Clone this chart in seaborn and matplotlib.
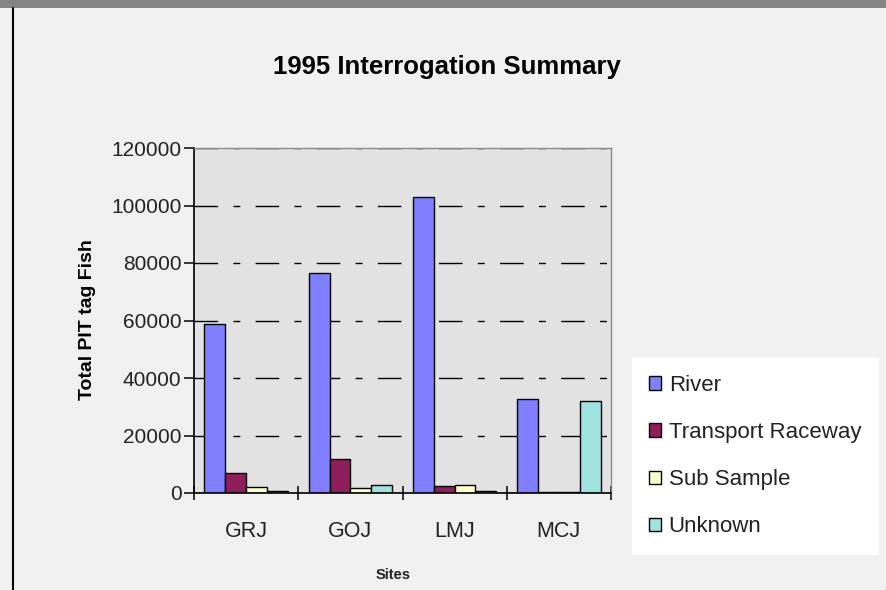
import matplotlib
matplotlib.use("Agg")
import matplotlib.pyplot as plt
import matplotlib.ticker as mticker
from matplotlib.patches import Rectangle
from matplotlib.lines import Line2D
import seaborn as sns
import pandas as pd

# ---- data ----
sites = ["GRJ", "GOJ", "LMJ", "MCJ"]
series_names = ["River", "Transport Raceway", "Sub Sample", "Unknown"]
river = [58800, 76600, 103000, 32700]
transport = [7000, 11800, 2500, 400]
sub_sample = [2100, 1800, 2800, 300]
unknown = [700, 2700, 800, 32000]
colors = ["#8080ff", "#8e1f5c", "#ffffcc", "#a0e2e0"]
y_ticks = [0, 20000, 40000, 60000, 80000, 100000, 120000]

rows = []
for name, vals in zip(series_names, [river, transport, sub_sample, unknown]):
    for s, v in zip(sites, vals):
        rows.append({"Site": s, "Series": name, "Count": v})
df = pd.DataFrame(rows)

sns.set_style("ticks")
plt.rcParams["font.family"] = ["Liberation Sans", "DejaVu Sans"]

fig = plt.figure(figsize=(8.87, 5.90), dpi=100)
fig.patch.set_facecolor("#f0f0f0")

# decorative frame: gray top bar and black left border
fig.patches.append(Rectangle((0, 1 - 8 / 590), 1, 8 / 590, transform=fig.transFigure,
                             facecolor="#858585", edgecolor="none", zorder=0))
fig.add_artist(Line2D([13 / 887, 13 / 887], [0, 1 - 8 / 590], transform=fig.transFigure,
                      color="black", linewidth=1.5))

ax = fig.add_axes([194 / 887, 1 - 493 / 590, (611 - 194) / 887, (493 - 148) / 590])
ax.set_facecolor("#e2e2e2")

sns.barplot(data=df, x="Site", y="Count", hue="Series", hue_order=series_names,
            order=sites, palette=colors, saturation=1, edgecolor="black",
            linewidth=1.0, width=0.8, ax=ax, legend=True)

ax.set_xlim(-0.5, 3.5)
ax.set_ylim(0, 120000)
ax.set_yticks(y_ticks)
ax.yaxis.set_major_formatter(mticker.FuncFormatter(lambda v, p: "%d" % v))

ax.set_axisbelow(True)
ax.yaxis.grid(True, color="black", linewidth=1.0, linestyle=(0, (17, 11, 5, 11)))
ax.xaxis.grid(False)

for side in ["left", "bottom"]:
    ax.spines[side].set_color("black")
    ax.spines[side].set_linewidth(1.2)
for side in ["top", "right"]:
    ax.spines[side].set_visible(True)
    ax.spines[side].set_color("#8a8a8a")
    ax.spines[side].set_linewidth(1.0)

ax.tick_params(axis="y", direction="out", length=7, width=1.1, color="black",
               labelsize=15, labelcolor="#222222", pad=2)
ax.tick_params(axis="x", which="major", length=0, labelsize=15.5,
               labelcolor="#222222", pad=20)
ax.set_xticks([-0.5, 0.5, 1.5, 2.5, 3.5], minor=True)
ax.tick_params(axis="x", which="minor", direction="inout", length=10, width=1.1,
               color="black")

ax.set_xlabel("")
ax.set_ylabel("")

fig.text(447 / 887, 1 - 67 / 590, "1995 Interrogation Summary", ha="center",
         va="center", fontsize=18.5, fontweight="bold", color="black")
fig.text(88 / 887, 1 - 320 / 590, "Total PIT tag Fish", rotation=90, ha="center",
         va="center", fontsize=14, fontweight="bold", color="black")
fig.text(393 / 887, 1 - 575 / 590, "Sites", ha="center", va="center",
         fontsize=10.5, fontweight="bold", color="#222222")

handles, labels = ax.get_legend_handles_labels()
ax.legend_.remove()
leg = fig.legend(handles, labels, loc="upper left",
                 bbox_to_anchor=(632 / 887, 1 - 358 / 590),
                 frameon=True, fancybox=False, facecolor="white", edgecolor="white",
                 framealpha=1.0, fontsize=16, handlelength=0.55, handleheight=0.55,
                 handletextpad=0.35, labelspacing=1.18, borderpad=0.75,
                 borderaxespad=0)
for t in leg.get_texts():
    t.set_color("#222222")

fig.savefig("out.png", dpi=100, facecolor=fig.get_facecolor())
